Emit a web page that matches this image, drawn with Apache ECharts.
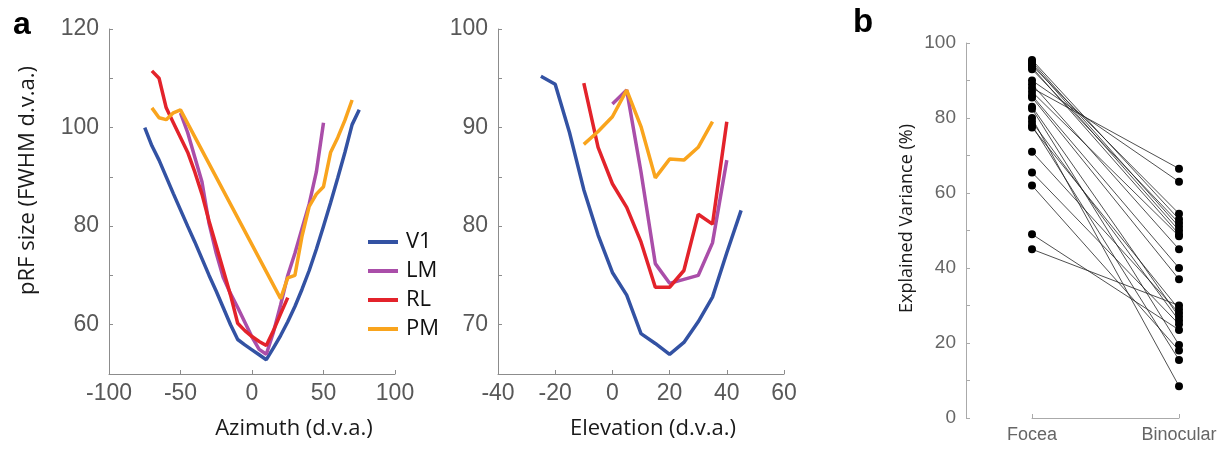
<!DOCTYPE html>
<html>
<head>
    <meta http-equiv="Content-Type" content="text/html; charset=UTF-8">
    <title>pRF size / explained variance</title>
    <script src="https://cdn.jsdelivr.net/npm/echarts@6/dist/echarts.min.js"></script>
</head>
<body style="margin:0;background:#fff;">
    <div id="main" style="width:1230px;height:450px;"></div>

    <script type="text/javascript">
        // panel a, left: azimuth
        var azV1X = [-75,-70,-65,-60,-55,-50,-45,-40,-35,-30,-25,-20,-15,-10,-5,0,5,10,15,20,25,30,35,40,45,50,55,60,65,70,75];
        var azV1Y = [100,96.3,93.4,90,86.6,83.3,80,76.8,73.4,70,66.8,63.4,60,57,55.9,54.9,53.9,52.9,55.3,57.8,60.6,63.7,67.2,71,75.3,80,84.8,89.8,95,100.6,103.6];
        var azLMX = [-50,-45,-40,-35,-30,-25,-20,-15,-10,-5,0,5,10,15,20,25,30,35,40,45,50];
        var azLMY = [103,99,94,89,80.5,74.5,69.5,66.3,63.5,60.5,57.5,55,54,58.5,64,70,74.5,79.5,84.5,91,101];
        var azRLX = [-70,-65,-60,-55,-50,-45,-40,-35,-30,-25,-20,-15,-10,-5,0,5,10,15,20,25];
        var azRLY = [111.5,110,104,101,98,95,91,86.5,81,76,71,66,60.3,58.8,57.6,56.6,55.8,58.8,62.2,65.5];
        var azPMX = [-70,-65,-60,-55,-50,20,25,30,35,40,45,50,55,60,65,70];
        var azPMY = [104,102,101.6,103,103.6,65.3,69.5,70,78,84,86.5,88,95,98,101.5,105.6];

        // panel a, right: elevation
        var elV1X = [-25,-20,-15,-10,-5,0,5,10,15,20,25,30,35,40,45];
        var elV1Y = [95.2,94.4,89.5,83.7,79.1,75.3,73,69.1,68.1,67,68.2,70.3,72.8,77.3,81.6];
        var elLMX = [0,5,10,15,20,25,30,35,40];
        var elLMY = [92.4,93.8,85.5,76.2,74.2,74.6,75,78.3,86.7];
        var elRLX = [-10,-5,0,5,10,15,20,25,30,35,40];
        var elRLY = [94.5,88,84.3,81.9,78.4,73.8,73.8,75.5,81.2,80.2,90.6];
        var elPMX = [-10,-5,0,5,10,15,20,25,30,35];
        var elPMY = [88.3,89.6,91.1,93.8,90.1,84.9,86.8,86.7,88,90.6];

        // panel b: explained variance per subject
        var conditions = ['Focea', 'Binocular'];
        var foceaVals = [95.5,95,94.5,94,93.5,93,90,89,88,87,86,85.5,83,82.5,80,79,78,77.5,71,65.5,62,49,45];
        var binocVals = [53,51,50,54.5,49,52,63,45,66.5,48.5,40,37,27,19.5,8.5,26,15.5,29,28,25,18,23.5,30];

        var areaNames = ['V1', 'LM', 'RL', 'PM'];
        var areaColors = ['#3352a3', '#aa4ea9', '#e3232b', '#f9a41d'];
        var azLabels = [60, 80, 100, 120];
        var elLabels = [70, 80, 90, 100];
        var evLabels = [0, 20, 40, 60, 80, 100];

        function zip(xs, ys) {
            return xs.map(function (x, i) { return [x, ys[i]]; });
        }
        function onlyTicks(list) {
            return function (v) { return list.indexOf(v) >= 0 ? String(v) : ''; };
        }

        var axisGray = '#8c8c8c';
        var labelGray = '#585858';
        var big = 'Open Sans';

        function valAxis(extra) {
            var base = {
                type: 'value',
                axisLine: { show: true, onZero: false, lineStyle: { color: axisGray, width: 1 } },
                axisTick: { show: true, inside: true, length: 4, lineStyle: { color: axisGray } },
                splitLine: { show: false },
                axisLabel: { color: labelGray, fontSize: 23, fontFamily: 'Liberation Sans' }
            };
            for (var k in extra) base[k] = extra[k];
            return base;
        }

        var azData = [zip(azV1X, azV1Y), zip(azLMX, azLMY), zip(azRLX, azRLY), zip(azPMX, azPMY)];
        var elData = [zip(elV1X, elV1Y), zip(elLMX, elLMY), zip(elRLX, elRLY), zip(elPMX, elPMY)];

        var series = [];
        azData.forEach(function (d, i) {
            series.push({ name: areaNames[i], type: 'line', xAxisIndex: 0, yAxisIndex: 0, data: d,
                showSymbol: false, color: areaColors[i], lineStyle: { width: 3.5 }, z: 2 + i });
        });
        elData.forEach(function (d, i) {
            series.push({ name: areaNames[i], type: 'line', xAxisIndex: 1, yAxisIndex: 1, data: d,
                showSymbol: false, color: areaColors[i], lineStyle: { width: 3.5 }, z: 2 + i });
        });
        foceaVals.forEach(function (v, i) {
            series.push({ type: 'line', xAxisIndex: 2, yAxisIndex: 2, data: [v, binocVals[i]],
                symbol: 'circle', symbolSize: 8, clip: false,
                itemStyle: { color: '#000' }, lineStyle: { color: '#222', width: 0.8 } });
        });

        var myChart = echarts.init(document.getElementById('main'));
        myChart.setOption({
            animation: false,
            backgroundColor: '#fff',
            title: [
                { text: 'a', left: 8, top: 4, textStyle: { fontSize: 32, fontWeight: 'bold', color: '#000', fontFamily: 'Liberation Sans' } },
                { text: 'b', left: 848, top: 1, textStyle: { fontSize: 33, fontWeight: 'bold', color: '#000', fontFamily: 'Liberation Sans' } }
            ],
            legend: {
                data: areaNames,
                orient: 'vertical',
                left: 363,
                top: 226,
                icon: 'rect',
                itemWidth: 30,
                itemHeight: 4,
                itemGap: 7,
                selectedMode: false,
                textStyle: { fontSize: 22, color: '#111', fontFamily: big, padding: [0, 0, 0, 3] }
            },
            grid: [
                { left: 109, right: 835, top: 29, bottom: 76 },
                { left: 498, right: 446, top: 29, bottom: 76 },
                { left: 1032, right: 51, top: 43, bottom: 32 }
            ],
            xAxis: [
                valAxis({ gridIndex: 0, min: -100, max: 100, interval: 50,
                    name: 'Azimuth (d.v.a.)', nameLocation: 'middle', nameGap: 44,
                    nameTextStyle: { fontSize: 22, color: '#1a1a1a', fontFamily: big, padding: [0, 0, 0, 84] },
                    axisLabel: { color: labelGray, fontSize: 23, margin: 8, fontFamily: 'Liberation Sans' } }),
                valAxis({ gridIndex: 1, min: -40, max: 60, interval: 20,
                    name: 'Elevation (d.v.a.)', nameLocation: 'middle', nameGap: 44,
                    nameTextStyle: { fontSize: 22, color: '#1a1a1a', fontFamily: big, padding: [0, 0, 0, 24] },
                    axisLabel: { color: labelGray, fontSize: 23, margin: 8, fontFamily: 'Liberation Sans' } }),
                {
                    gridIndex: 2, type: 'category', data: conditions, boundaryGap: false,
                    axisLine: { show: true, onZero: false, lineStyle: { color: '#aaa', width: 1 } },
                    axisTick: { show: true, inside: true, length: 4, alignWithLabel: true, lineStyle: { color: '#aaa' } },
                    axisLabel: { color: '#666', fontSize: 18, margin: 8, fontFamily: 'Liberation Sans' },
                    splitLine: { show: false }
                }
            ],
            yAxis: [
                valAxis({ gridIndex: 0, min: 50, max: 120, interval: 10,
                    name: 'pRF size (FWHM d.v.a.)', nameLocation: 'middle', nameGap: 70,
                    nameTextStyle: { fontSize: 22, color: '#1a1a1a', fontFamily: big, padding: [0, 0, 0, 42] },
                    axisLabel: { color: labelGray, fontSize: 23, margin: 10, fontFamily: 'Liberation Sans', formatter: onlyTicks(azLabels) } }),
                valAxis({ gridIndex: 1, min: 65, max: 100, interval: 5,
                    axisLabel: { color: labelGray, fontSize: 23, margin: 10, fontFamily: 'Liberation Sans', formatter: onlyTicks(elLabels) } }),
                {
                    gridIndex: 2, type: 'value', min: 0, max: 100, interval: 10, offset: 66,
                    name: 'Explained Variance (%)', nameLocation: 'middle', nameGap: 50,
                    nameTextStyle: { fontSize: 18, color: '#1a1a1a', fontFamily: big, padding: [0, 0, 0, 24] },
                    axisLine: { show: true, onZero: false, lineStyle: { color: '#aaa', width: 1 } },
                    axisTick: { show: true, inside: true, length: 4, lineStyle: { color: '#aaa' } },
                    axisLabel: { color: '#666', fontSize: 19, margin: 10, fontFamily: 'Liberation Sans', formatter: onlyTicks(evLabels) },
                    splitLine: { show: false }
                }
            ],
            series: series
        });
    </script>
</body>
</html>
